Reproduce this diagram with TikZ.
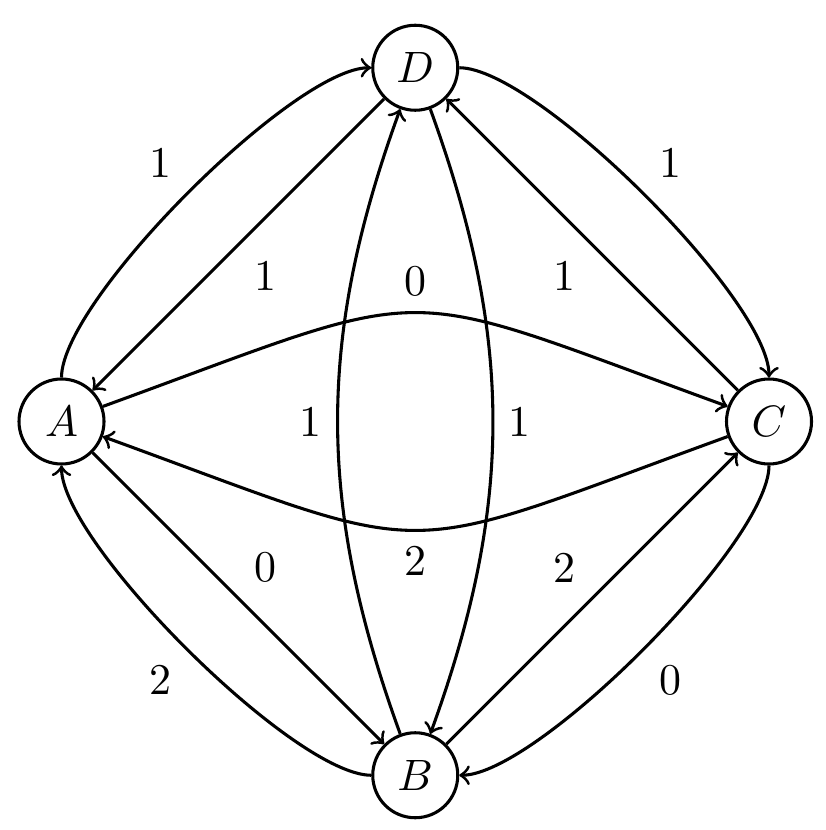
\documentclass[tikz,border=0pt]{standalone}
\usetikzlibrary{positioning}
\begin{document}
\begin{tikzpicture}[
        on grid, node distance=2.83cm and 2.83cm, auto,
        state/.style={circle, draw, line width=0.7pt, minimum size=0.68cm, inner sep=0pt},
        every edge/.style={draw, line width=0.7pt, ->}]
    \useasboundingbox (-0.492,-3.268) rectangle (6.116,3.372);
    \node[state] (A) {$A$};
    \node[state, above right=of A] (D) {$D$};
    \node[state, below right=of A] (B) {$B$};
    \node[state, below right=of D] (C) {$C$};
    % outer arcs
    \path (A) edge[bend left=45, looseness=0.45] node {1} (D)
          (D) edge[bend left=45, looseness=0.45] node {1} (C)
          (C) edge[bend left=45, looseness=0.45] node {0} (B)
          (B) edge[bend left=45, looseness=0.45] node {2} (A);
    % diagonals
    \path (D) edge node {1} (A)
          (C) edge node {1} (D)
          (A) edge node {0} (B)
          (B) edge node {2} (C);
    % inner arcs
    \path (A) edge[bend left=20, looseness=1.5] node {0} (C)
          (C) edge[bend left=20, looseness=1.5] node {2} (A)
          (B) edge[bend left=20, looseness=1.0] node {1} (D)
          (D) edge[bend left=20, looseness=1.0] node {1} (B);
\end{tikzpicture}
\end{document}
